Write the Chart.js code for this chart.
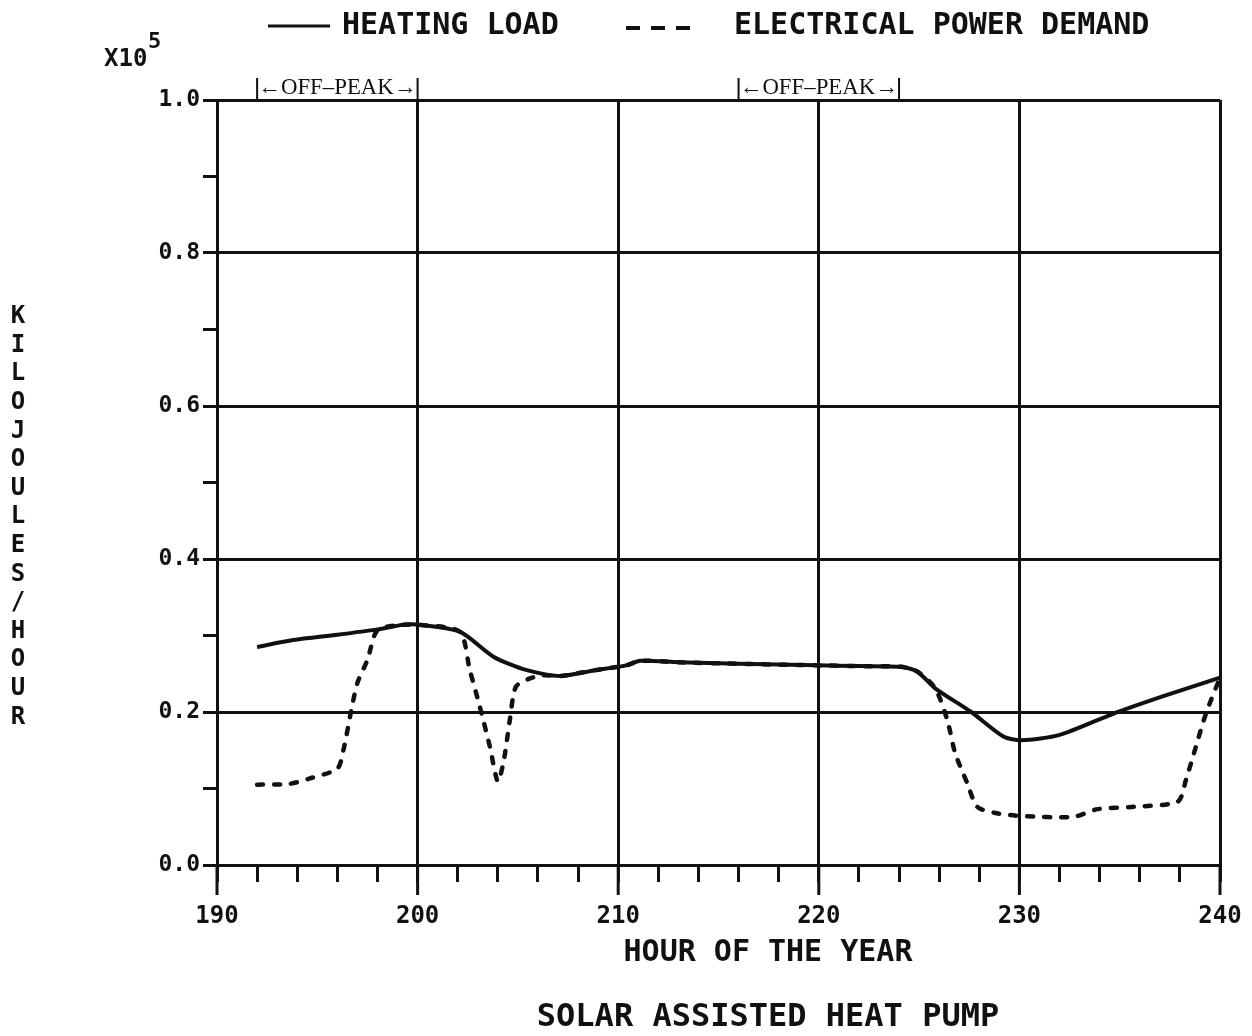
<!DOCTYPE html>
<html>
<head>
<meta charset="utf-8">
<script src="https://cdn.jsdelivr.net/npm/chart.js@4/dist/chart.umd.min.js"></script>
<style>
  html, body { margin: 0; padding: 0; background: #fff; }
  #wrap { width: 1252px; height: 1036px; position: relative; }
</style>
</head>
<body>
<div id="wrap"><canvas id="chart"></canvas></div>
<script>
const PLOT_FONT = "'DejaVu Sans Mono', 'Liberation Mono', monospace";
const INK = "#111";

// hour of the year, heating load (x10^5 kJ/h)
const heatHours = [192, 193.8, 196, 198, 199.3, 200.1, 202.1, 203.8, 205.4, 207.1, 208.7, 210.4,
  211.1, 213, 216, 219.9, 222, 224.1, 224.9, 225.8, 227.6, 229.2, 230.1, 232, 234.7, 237.1, 240];
const heatLoad = [0.285, 0.294, 0.301, 0.308, 0.314, 0.314, 0.305, 0.272, 0.255, 0.247, 0.254, 0.261,
  0.267, 0.265, 0.263, 0.261, 0.260, 0.259, 0.253, 0.231, 0.200, 0.168, 0.163, 0.170, 0.198, 0.220, 0.245];

// electrical power demand
const elecHours = [192, 193.6, 194.6, 196, 196.3, 196.7, 197, 197.5, 198, 199.3, 200.1, 202.1,
  202.6, 203.1, 203.6, 204.0, 204.3, 204.6, 204.9, 205.6, 206.3, 207.1, 208.7, 210.4, 211.1, 213,
  216, 219.9, 222, 224.1, 224.9, 225.8, 226.4, 226.8, 227.4, 227.9, 228.8, 230.1, 232.7, 233.9,
  235.7, 237.9, 238.3, 238.7, 239.3, 240];
const elecDemand = [0.105, 0.106, 0.113, 0.126, 0.150, 0.203, 0.238, 0.268, 0.307, 0.314, 0.314, 0.305,
  0.255, 0.207, 0.155, 0.109, 0.137, 0.190, 0.233, 0.244, 0.248, 0.247, 0.254, 0.261, 0.267, 0.265,
  0.263, 0.261, 0.260, 0.259, 0.253, 0.231, 0.190, 0.146, 0.107, 0.076, 0.068, 0.064, 0.063, 0.073,
  0.076, 0.083, 0.111, 0.146, 0.198, 0.245];

// off-peak windows [start, end] in hours
const offPeak = [[192, 200], [216, 224]];
const yTitle = "KILOJOULES/HOUR";

const toPoints = (xs, ys) => xs.map((x, i) => ({ x, y: ys[i] }));
const isMajorY = (v) => Math.round(v * 10) % 2 === 0;
const isMajorX = (v) => Math.round(v) % 10 === 0;

// extra text, longer major x ticks, y title and legend
const decorations = {
  id: "decorations",
  afterDraw(chart) {
    const { ctx, chartArea: a, scales } = chart;
    const xs = scales.x;
    ctx.save();
    ctx.strokeStyle = INK;
    ctx.fillStyle = INK;

    // major ticks run further down
    ctx.lineWidth = 3;
    for (let h = 190; h <= 240; h += 10) {
      const px = xs.getPixelForValue(h);
      ctx.beginPath();
      ctx.moveTo(px, a.bottom);
      ctx.lineTo(px, a.bottom + 30);
      ctx.stroke();
    }

    // off-peak markers above the frame
    ctx.lineWidth = 2;
    ctx.font = "23px 'Liberation Serif', 'DejaVu Serif', serif";
    ctx.textBaseline = "alphabetic";
    ctx.textAlign = "left";
    offPeak.forEach(([h0, h1]) => {
      const p0 = xs.getPixelForValue(h0);
      const p1 = xs.getPixelForValue(h1);
      ctx.beginPath();
      ctx.moveTo(p0, a.top - 22); ctx.lineTo(p0, a.top);
      ctx.moveTo(p1, a.top - 22); ctx.lineTo(p1, a.top);
      ctx.stroke();
      ctx.fillText("\u2190OFF\u2013PEAK\u2192", p0 + 1, a.top - 6, p1 - p0 - 2);
    });

    // exponent label
    ctx.font = "bold 24px " + PLOT_FONT;
    ctx.textAlign = "left";
    ctx.fillText("X10", 104, 66);
    ctx.font = "bold 22px " + PLOT_FONT;
    ctx.fillText("5", 148, 48);

    // y title, letters stacked
    ctx.font = "bold 24px " + PLOT_FONT;
    ctx.textAlign = "center";
    ctx.textBaseline = "middle";
    for (let i = 0; i < yTitle.length; i++) {
      ctx.fillText(yTitle[i], 18, 317 + i * 28.6);
    }

    // axis title and caption
    ctx.font = "bold 30px " + PLOT_FONT;
    ctx.fillText("HOUR OF THE YEAR", 768, 953);
    ctx.font = "bold 32px " + PLOT_FONT;
    ctx.fillText("SOLAR ASSISTED HEAT PUMP", 768, 1018);

    // legend
    ctx.font = "bold 30px " + PLOT_FONT;
    ctx.textAlign = "left";
    ctx.lineWidth = 3;
    ctx.beginPath();
    ctx.moveTo(268, 26); ctx.lineTo(330, 26);
    ctx.stroke();
    ctx.fillText("HEATING LOAD", 342, 26);
    ctx.lineWidth = 4;
    ctx.setLineDash([14, 11]);
    ctx.beginPath();
    ctx.moveTo(626, 28); ctx.lineTo(694, 28);
    ctx.stroke();
    ctx.setLineDash([]);
    ctx.fillText("ELECTRICAL POWER DEMAND", 734, 26);
    ctx.restore();
  }
};

new Chart(document.getElementById("chart"), {
  type: "line",
  data: {
    datasets: [
      {
        label: "HEATING LOAD",
        data: toPoints(heatHours, heatLoad),
        borderColor: INK,
        borderWidth: 4,
        pointRadius: 0,
        tension: 0.25,
        fill: false,
      },
      {
        label: "ELECTRICAL POWER DEMAND",
        data: toPoints(elecHours, elecDemand),
        borderColor: INK,
        borderWidth: 4.5,
        borderDash: [6, 11],
        borderCapStyle: "round",
        pointRadius: 0,
        tension: 0.25,
        fill: false,
      },
    ],
  },
  options: {
    responsive: true,
    maintainAspectRatio: false,
    animation: false,
    layout: { padding: { left: 0, right: 32, top: 100, bottom: 0 } },
    plugins: { legend: { display: false }, title: { display: false }, tooltip: { enabled: false } },
    scales: {
      x: {
        type: "linear",
        min: 190,
        max: 240,
        afterFit: (s) => {
          s.height = 171;
          s.paddingLeft = 0;
          s.paddingRight = 0;
        },
        afterBuildTicks: (s) => {
          s.ticks = [];
          for (let h = 190; h <= 240; h += 2) s.ticks.push({ value: h });
        },
        ticks: {
          autoSkip: false,
          maxRotation: 0,
          padding: 20,
          color: INK,
          font: { family: PLOT_FONT, size: 24, weight: "bold" },
          callback: (v) => (isMajorX(v) ? String(v) : ""),
        },
        grid: {
          color: (c) => (c.tick && isMajorX(c.tick.value) ? INK : "rgba(0,0,0,0)"),
          lineWidth: 3,
          tickColor: INK,
          tickWidth: 3,
          tickLength: 17,
        },
        border: { display: true, color: INK, width: 3 },
      },
      y: {
        min: 0,
        max: 1.0,
        afterFit: (s) => {
          s.width = 217;
          s.paddingTop = 0;
          s.paddingBottom = 0;
        },
        afterBuildTicks: (s) => {
          s.ticks = [];
          for (let i = 0; i <= 10; i++) s.ticks.push({ value: i / 10 });
        },
        ticks: {
          padding: 3,
          color: INK,
          font: { family: PLOT_FONT, size: 23, weight: "bold" },
          callback: (v) => (isMajorY(v) ? v.toFixed(1) : ""),
        },
        grid: {
          color: (c) => (c.tick && isMajorY(c.tick.value) ? INK : "rgba(0,0,0,0)"),
          lineWidth: 3,
          tickColor: INK,
          tickWidth: 3,
          tickLength: 14,
        },
        border: { display: true, color: INK, width: 3 },
      },
    },
  },
  plugins: [decorations],
});
</script>
</body>
</html>
